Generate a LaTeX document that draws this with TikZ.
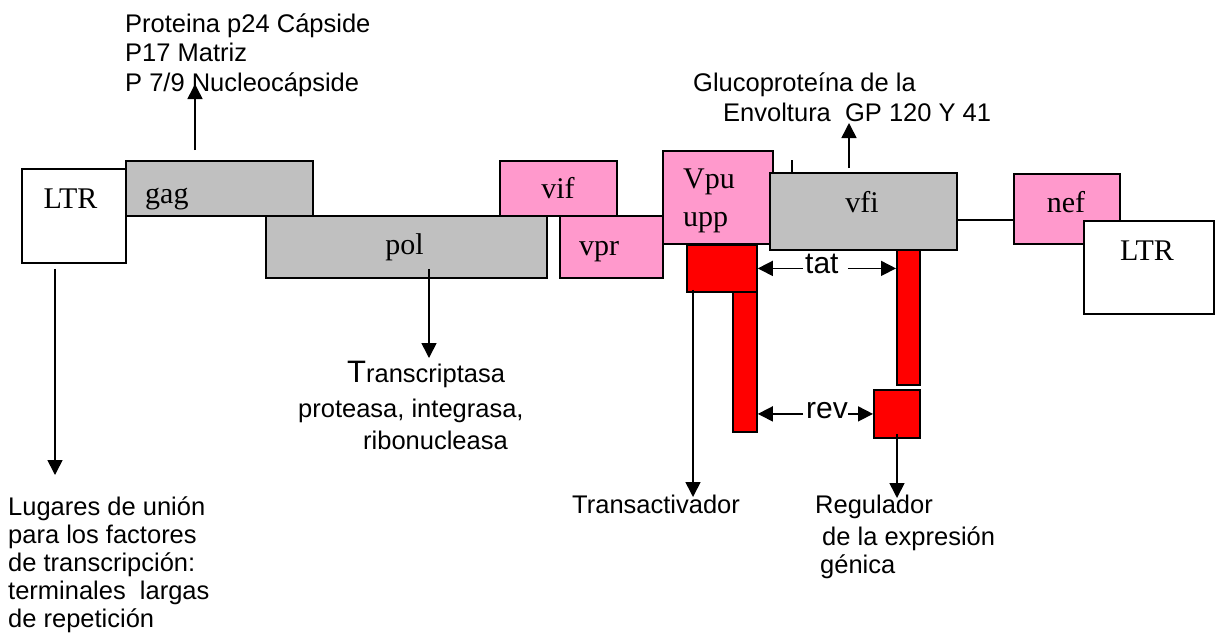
\documentclass[tikz,border=0pt]{standalone}
\usepackage{fontspec}
\setmainfont{Liberation Serif}
\newfontfamily\arialf{Liberation Sans}
\usetikzlibrary{arrows.meta,calc}
\definecolor{pinkbox}{HTML}{FF99CC}
\definecolor{graybox}{HTML}{C0C0C0}
\definecolor{redbox}{HTML}{FF0000}
\tikzset{
 box/.style={draw=black, line width=1.8pt, rectangle, inner sep=0pt, anchor=north west},
 lbl/.style={font=\fontsize{30}{36}\selectfont, inner sep=0pt, anchor=base},
 lblw/.style={font=\fontsize{30}{36}\selectfont, inner sep=0pt, anchor=base west},
 ann/.style={font=\arialf\fontsize{25.5}{30}\selectfont, inner sep=0pt, anchor=base west},
 big/.style={font=\arialf\fontsize{30}{36}\selectfont, inner sep=0pt, anchor=base west},
 arr/.style={line width=1.6pt, -{Triangle[length=15pt,width=15pt]}},
 ln/.style={line width=1.6pt},
}
\begin{document}
\begin{tikzpicture}[x=1pt,y=-1pt]
\useasboundingbox (0,0) rectangle (1220,641);
% boxes
\node[box, fill=white, minimum width=104pt, minimum height=94pt] (ltrL) at (21,168) {};
\node[box, fill=graybox, minimum width=187pt, minimum height=55pt] (gag) at (125,160) {};
\node[box, fill=graybox, minimum width=281pt, minimum height=62pt] (pol) at (265,215) {};
\node[box, fill=pinkbox, minimum width=117pt, minimum height=55pt] (vif) at (499,160) {};
\node[box, fill=pinkbox, minimum width=103pt, minimum height=62pt] (vpr) at (559,215) {};
\node[box, fill=pinkbox, minimum width=110pt, minimum height=93pt] (vpu) at (662,150) {};
\coordinate (tick) at (792,160);
\node[box, fill=graybox, minimum width=187pt, minimum height=77pt] (vfi) at (769,172) {};
\draw[ln] (tick) -- (vfi.north -| tick);
\node[box, fill=pinkbox, minimum width=106pt, minimum height=70pt] (nef) at (1013,173) {};
\node[box, fill=white, minimum width=130pt, minimum height=93pt] (ltrR) at (1083,220) {};
\node[box, fill=redbox, minimum width=70pt, minimum height=47pt] (tatA) at (686,244) {};
\node[box, fill=redbox, minimum width=24pt, minimum height=140pt] (revA) at (732,291) {};
\node[box, fill=redbox, minimum width=23pt, minimum height=135pt] (tatB) at (896,249) {};
\node[box, fill=redbox, minimum width=46pt, minimum height=48pt] (revB) at (873,389) {};
% box labels
\node[lbl] (ltrLt) at (70.5,208) {LTR};
\node[lblw] (gagt) at (145,203) {gag};
\node[lbl] (polt) at (404.5,254) {pol};
\node[lbl] (vift) at (558,198) {vif};
\node[lblw] (vprt) at (579,255) {vpr};
\node[lblw] (vput1) at (683,188) {Vpu};
\node[lblw] (vput2) at (683,226) {upp};
\node[lbl] (vfit) at (862,212) {vfi};
\node[lbl] (neft) at (1066,212) {nef};
\node[lbl] (ltrRt) at (1147,260) {LTR};
% annotations
\node[ann] (g1) at (125,32) {Proteina p24 Cápside};
\node[ann] (g2) at (125,61.5) {P17 Matriz};
\node[ann] (g3) at (125,91) {P 7/9 Nucleocápside};
\node[ann] (e1) at (693,91) {Glucoproteína de la};
\node[ann] (e2) at (723,121) {Envoltura\ \ GP 120 Y 41};
\node[ann] (p1) at (347,382) {{\fontsize{31}{36}\selectfont T}ranscriptasa};
\node[ann] (p2) at (298,417) {proteasa, integrasa,};
\node[ann] (p3) at (363,449) {ribonucleasa};
\node[ann] (l1) at (8,515) {Lugares de unión};
\node[ann] (l2) at (8,543) {para los factores};
\node[ann] (l3) at (8,571) {de transcripción:};
\node[ann] (l4) at (8,599) {terminales\ \ largas};
\node[ann] (l5) at (8,627) {de repetición};
\node[ann] (tr) at (572,513) {Transactivador};
\node[ann] (r1) at (815,513) {Regulador};
\node[ann] (r2) at (822,545) {de la expresión};
\node[ann] (r3) at (820,573) {génica};
\node[big] (tat) at (805,273) {tat};
\node[big] (rev) at (806,418) {rev};
% connectors
\coordinate (lugEnd) at (55,475);
\draw[arr] ($(ltrL.south -| lugEnd)+(0,5)$) -- (lugEnd);
\coordinate (gagEnd) at (195,84);
\draw[arr] ($(gag.north -| gagEnd)+(0,-10)$) -- (gagEnd);
\coordinate (polEnd) at (429,358);
\draw[arr] ($(pol.south -| polEnd)+(0,-10)$) -- (polEnd);
\coordinate (envEnd) at (849,123);
\draw[arr] ($(vfi.north -| envEnd)+(0,-4)$) -- (envEnd);
\coordinate (nefY) at (0,220);
\draw[ln] (vfi.east |- nefY) -- (nef.west |- nefY);
\draw[arr] ($(tat.west |- tatA.east)+(-2,0)$) -- (tatA.east);
\draw[arr] ($(tat.east |- tatA.east)+(9,0)$) -- (tatB.west |- tatA.east);
\draw[arr] ($(rev.west |- revB.west)+(-3,0)$) -- (revA.east |- revB.west);
\draw[arr] (rev.east |- revB.west) -- (revB.west);
\coordinate (transEnd) at (693,497);
\draw[arr] ($(tatA.south -| transEnd)+(0,-3)$) -- (transEnd);
\coordinate (regEnd) at (897,498);
\draw[arr] ($(revB.south -| regEnd)+(0,-5)$) -- (regEnd);
\end{tikzpicture}
\end{document}
